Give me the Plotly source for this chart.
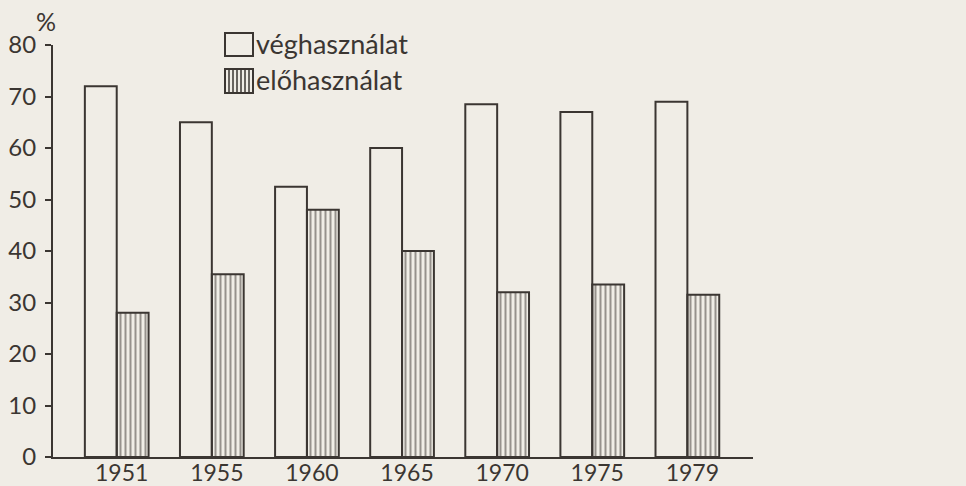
import plotly.graph_objects as go

years = ['1951', '1955', '1960', '1965', '1970', '1975', '1979']
vegh = [72, 65, 52.5, 60, 68.5, 67, 69]
eloh = [28, 35.5, 48, 40, 32, 33.5, 31.5]
y_ticks = [0, 10, 20, 30, 40, 50, 60, 70, 80]
names = ['véghasználat', 'előhasználat']

INK = '#3b3632'
BG = '#f0ede6'
FONT = 'Lato'

fig = go.Figure()
fig.add_trace(go.Bar(
    x=years, y=vegh, name=names[0],
    marker=dict(color='rgba(0,0,0,0)', line=dict(color=INK, width=2)),
))
fig.add_trace(go.Bar(
    x=years, y=eloh, name=names[1],
    marker=dict(color='rgba(0,0,0,0)', line=dict(color=INK, width=2),
                pattern=dict(shape='|', size=5, solidity=0.4, fgcolor=INK,
                             bgcolor='rgba(0,0,0,0)', fillmode='overlay')),
))

L, R, T, B = 53, 213, 45, 29
W, H = 966, 486
pw, ph = W - L - R, H - T - B

def px(x):
    return (x - L) / pw

def py(y):
    return (H - B - y) / ph

shapes = []
# legend boxes
shapes.append(dict(type='rect', xref='paper', yref='paper',
                   x0=px(225), x1=px(253), y0=py(56), y1=py(33),
                   line=dict(color=INK, width=2), fillcolor='rgba(0,0,0,0)'))
shapes.append(dict(type='rect', xref='paper', yref='paper',
                   x0=px(225), x1=px(253), y0=py(93), y1=py(69),
                   line=dict(color=INK, width=2), fillcolor='rgba(0,0,0,0)'))
for xx in range(229, 253, 4):
    shapes.append(dict(type='line', xref='paper', yref='paper',
                       x0=px(xx), x1=px(xx), y0=py(93), y1=py(69),
                       line=dict(color=INK, width=1.5)))

annotations = [
    dict(text=names[0], xref='paper', yref='paper', x=px(254), y=py(43),
         xanchor='left', yanchor='middle', showarrow=False,
         font=dict(family=FONT, size=27, color=INK)),
    dict(text=names[1], xref='paper', yref='paper', x=px(254), y=py(80),
         xanchor='left', yanchor='middle', showarrow=False,
         font=dict(family=FONT, size=27, color=INK)),
    dict(text='%', xref='paper', yref='paper', x=px(34), y=py(21),
         xanchor='left', yanchor='middle', showarrow=False,
         font=dict(family=FONT, size=25, color=INK)),
]

fig.update_layout(
    width=W, height=H,
    margin=dict(l=L, r=R, t=T, b=B, pad=0, autoexpand=False),
    paper_bgcolor=BG, plot_bgcolor=BG,
    barmode='group', bargap=0.33, bargroupgap=0,
    showlegend=False,
    shapes=shapes, annotations=annotations,
    font=dict(family=FONT, color=INK, size=24),
    xaxis=dict(type='category', range=[-0.67, 6.69], showline=True,
               linecolor=INK, linewidth=2, ticks='', showgrid=False,
               zeroline=False, tickfont=dict(size=23, color=INK),
               ticklabelshift=5, ticklabelstandoff=-6, automargin=False),
    yaxis=dict(range=[0, 80], tickvals=y_ticks, showline=True,
               linecolor=INK, linewidth=2, ticks='outside', ticklen=6,
               tickwidth=1.5, tickcolor=INK, showgrid=False, zeroline=False,
               tickfont=dict(size=24, color=INK), ticklabelstandoff=4,
               automargin=False),
)

fig.write_html('out.html',
               config=dict(displayModeBar=False),
               post_script="document.body.style.margin='0';"
                           "document.body.style.background='#f0ede6';"
                           "document.body.style.overflow='hidden';")
